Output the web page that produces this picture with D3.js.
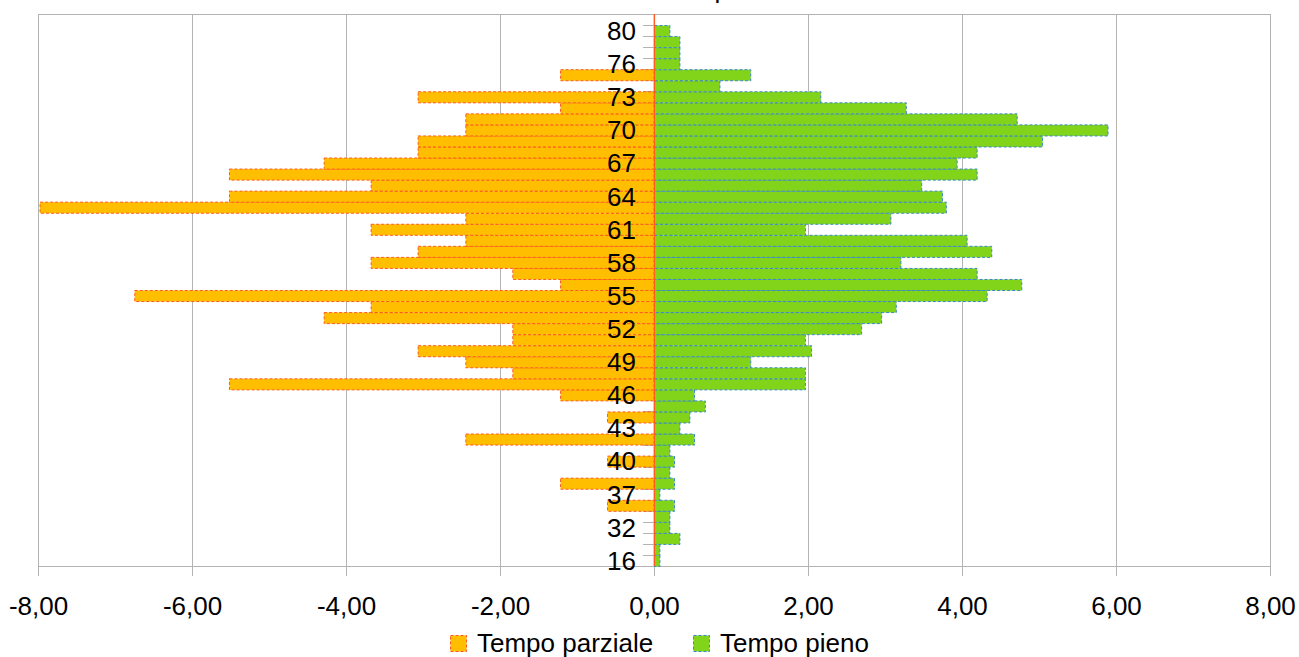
<!DOCTYPE html>
<html>
<head>
<meta charset="utf-8">
<script src="https://cdn.jsdelivr.net/npm/d3@7"></script>
<style>
  html, body { margin: 0; padding: 0; background: #ffffff; }
  svg { display: block; font-family: "Liberation Sans", Arial, sans-serif; }
</style>
</head>
<body>
<svg id="chart" width="1299" height="657"></svg>
<script>
// ---- data (bottom to top) ----
const categories = ["16","26","29","32","34","35","37","38","39","40","41","42","43","44","45","46","47","48","49","50","51","52","53","54","55","56","57","58","59","60","61","62","63","64","65","66","67","68","69","70","71","72","73","74","75","76","77","78","80","81"];
const tempoParziale = [0,0,0,0,0,-0.61,0,-1.22,0,-0.61,0,-2.45,0,-0.61,0,-1.22,-5.52,-1.84,-2.45,-3.07,-1.84,-1.84,-4.29,-3.68,-6.75,-1.22,-1.84,-3.68,-3.07,-2.45,-3.68,-2.45,-7.98,-5.52,-3.68,-5.52,-4.29,-3.07,-3.07,-2.45,-2.45,-1.22,-3.07,0,-1.22,0,0,0,0,0];
const tempoPieno = [0.07,0.07,0.33,0.20,0.20,0.26,0.07,0.26,0.20,0.26,0.20,0.52,0.33,0.46,0.66,0.52,1.96,1.96,1.25,2.04,1.96,2.69,2.95,3.14,4.32,4.77,4.19,3.20,4.38,4.06,1.96,3.07,3.79,3.74,3.47,4.19,3.93,4.19,5.04,5.89,4.71,3.27,2.16,0.85,1.25,0.33,0.33,0.33,0.20,0];
const xTicks = [-8,-6,-4,-2,0,2,4,6,8];
const seriesNames = ["Tempo parziale", "Tempo pieno"];
const titleText = "Distribuzione per età";

// ---- styles ----
const colParzFill = "#ffbf00", colParzLine = "#ff5a1f";
const colPienFill = "#81d41a", colPienLine = "#3a89c9";
const gridCol = "#b3b3b3";
const fontSize = 26;

const svg = d3.select("#chart");
const plot = { left: 38, right: 1270, top: 14, bottom: 566 };

const x = d3.scaleLinear().domain([-8, 8]).range([plot.left, plot.right]);
const y = d3.scaleBand().domain(categories.slice().reverse()).range([plot.top, plot.bottom]).padding(0);

// title (mostly outside the visible area, as in the reference)
svg.append("text").attr("x", 557).attr("y", -2).attr("font-size", fontSize).attr("fill", "#000").text(titleText);

// vertical gridlines
svg.append("g").selectAll("line").data(xTicks).join("line")
  .attr("x1", d => x(d)).attr("x2", d => x(d))
  .attr("y1", plot.top).attr("y2", plot.bottom + 10)
  .attr("stroke", gridCol).attr("stroke-width", 1).attr("shape-rendering", "crispEdges");
// top border
svg.append("line").attr("x1", plot.left).attr("x2", plot.right).attr("y1", plot.top).attr("y2", plot.top)
  .attr("stroke", gridCol).attr("shape-rendering", "crispEdges");

// x axis
const xAxis = d3.axisBottom(x).tickValues(xTicks).tickSize(10).tickPadding(21)
  .tickFormat(d => d.toFixed(2).replace(".", ","));
const gx = svg.append("g").attr("transform", `translate(0,${plot.bottom})`).call(xAxis);
gx.select(".domain").attr("stroke", gridCol).attr("shape-rendering", "crispEdges");
gx.selectAll(".tick line").attr("stroke", gridCol).attr("shape-rendering", "crispEdges");
gx.selectAll(".tick text").attr("font-size", fontSize).attr("font-family", "Liberation Sans, Arial, sans-serif").attr("fill", "#000");

// category axis ticks at band boundaries (behind bars)
const bounds = categories.map(c => y(c)).concat([plot.bottom]);
svg.append("g").selectAll("line").data(bounds).join("line")
  .attr("x1", x(0) - 11).attr("x2", x(0))
  .attr("y1", d => Math.round(d) + 0.5).attr("y2", d => Math.round(d) + 0.5)
  .attr("stroke", gridCol).attr("stroke-width", 1);
svg.append("line").attr("x1", x(0)).attr("x2", x(0)).attr("y1", plot.top).attr("y2", plot.bottom)
  .attr("stroke", gridCol);

// bars
const dash = "3,2";
const bars = svg.append("g");
bars.selectAll("rect.parz").data(categories.map((c, i) => ({ c, v: tempoParziale[i] })).filter(d => d.v !== 0)).join("rect")
  .attr("class", "parz")
  .attr("x", d => x(d.v) + 0.5).attr("y", d => y(d.c) + 0.5)
  .attr("width", d => x(0) - x(d.v) - 0.5).attr("height", y.bandwidth())
  .attr("fill", colParzFill).attr("stroke", colParzLine).attr("stroke-width", 1).attr("stroke-dasharray", dash);
bars.selectAll("rect.pien").data(categories.map((c, i) => ({ c, v: tempoPieno[i] })).filter(d => d.v !== 0)).join("rect")
  .attr("class", "pien")
  .attr("x", x(0) + 0.5).attr("y", d => y(d.c) + 0.5)
  .attr("width", d => x(d.v) - x(0)).attr("height", y.bandwidth())
  .attr("fill", colPienFill).attr("stroke", colPienLine).attr("stroke-width", 1).attr("stroke-dasharray", dash);

// zero line (borders of zero-width bars)
svg.append("line").attr("x1", x(0) + 0.5).attr("x2", x(0) + 0.5).attr("y1", plot.top).attr("y2", plot.bottom)
  .attr("stroke", colParzLine).attr("stroke-width", 1.2);

// category labels (every third)
svg.append("g").selectAll("text").data(categories.filter((c, i) => i % 3 === 0)).join("text")
  .attr("x", x(0) - 18).attr("y", d => y(d) + y.bandwidth() / 2)
  .attr("dy", "0.36em").attr("text-anchor", "end")
  .attr("font-size", fontSize).attr("fill", "#000").text(d => d);

// legend
const legend = svg.append("g");
const legItems = [
  { name: seriesNames[0], fill: colParzFill, line: colParzLine, x: 450 },
  { name: seriesNames[1], fill: colPienFill, line: colPienLine, x: 693 }
];
legItems.forEach(it => {
  legend.append("rect").attr("x", it.x + 0.5).attr("y", 635.5).attr("width", 16).attr("height", 16)
    .attr("fill", it.fill).attr("stroke", it.line).attr("stroke-dasharray", dash);
  legend.append("text").attr("x", it.x + 27).attr("y", 652).attr("font-size", fontSize).attr("fill", "#000").text(it.name);
});
</script>
</body>
</html>
